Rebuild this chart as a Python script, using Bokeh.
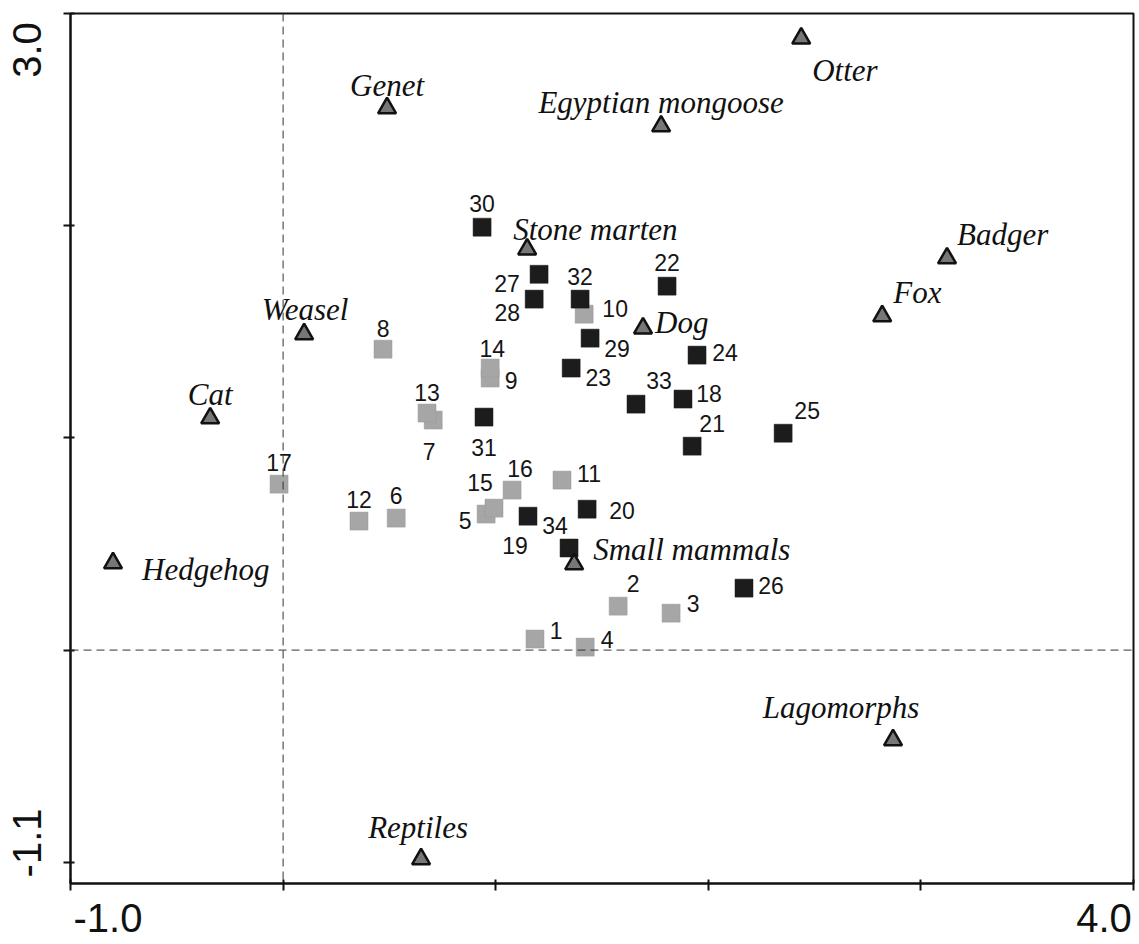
import math
from bokeh.plotting import figure
from bokeh.models import ColumnDataSource, FixedTicker, Span, Range1d
from bokeh.core.properties import value
from bokeh.embed import file_html
from bokeh.resources import INLINE

# ---------------- data ----------------
species_names = ["Genet", "Egyptian mongoose", "Otter", "Stone marten", "Badger",
                 "Fox", "Weasel", "Cat", "Hedgehog", "Dog", "Small mammals",
                 "Reptiles", "Lagomorphs"]
species_x = [0.489, 1.778, 2.437, 1.148, 3.123, 2.818, 0.099, -0.343, -0.800,
             1.693, 1.369, 0.649, 2.869]
species_y = [2.554, 2.469, 2.883, 1.889, 1.847, 1.574, 1.489, 1.093, 0.410,
             1.517, 0.405, -0.985, -0.424]

gray_ids = ["1", "2", "3", "4", "5", "6", "7", "8", "9", "10", "11", "12",
            "13", "14", "15", "16", "17"]
gray_x = [1.185, 1.576, 1.825, 1.421, 0.955, 0.532, 0.706, 0.470, 0.974, 1.416,
          1.312, 0.357, 0.677, 0.974, 0.992, 1.077, -0.019]
gray_y = [0.052, 0.207, 0.174, 0.014, 0.641, 0.622, 1.084, 1.418, 1.282, 1.583,
          0.801, 0.608, 1.117, 1.329, 0.669, 0.754, 0.782]

black_ids = ["18", "19", "20", "21", "22", "23", "24", "25", "26", "27", "28",
             "29", "30", "31", "32", "33", "34"]
black_x = [1.881, 1.152, 1.430, 1.924, 1.806, 1.355, 1.947, 2.352, 2.168, 1.204,
           1.181, 1.444, 0.936, 0.945, 1.397, 1.660, 1.345]
black_y = [1.183, 0.631, 0.664, 0.961, 1.715, 1.329, 1.390, 1.022, 0.292, 1.771,
           1.654, 1.470, 1.993, 1.098, 1.654, 1.159, 0.481]

x_tick_values = [-1, 0, 1, 2, 3, 4]
y_tick_values = [-1, 0, 1, 2, 3]
x_end_labels = ["-1.0", "4.0"]
y_end_labels = ["-1.1", "3.0"]
x_lo, x_hi = -1.0, 4.0
y_lo, y_hi = -1.1, 3.0

# ---------------- layout ----------------
FW, FH = 1063, 870
px_x = FW / (x_hi - x_lo)
px_y = FH / (y_hi - y_lo)
TEXT_SHIFT = -9  # baseline correction (px)

# label placement (screen px, +dx right, +dy down), relative to the marker
gray_dx = [21, 15, 22, 22, -21, 0, -4, 0, 21, 31, 27, 0, 0, 2, -14, 8, 0]
gray_dy = [-8, -22, -9, -7, 7, -22, 32, -20, 3, -5, -6, -21, -20, -19, -25, -21, -21]
black_dx = [26, -13, 35, 20, 0, 27, 28, 24, 27, -32, -27, 27, 0, 0, 0, 23, -14]
black_dy = [-5, 30, 2, -22, -23, 10, -2, -22, -2, 10, 14, 11, -23, 31, -22, -23, -22]

sp_align = ["center", "center", "left", "left", "left", "left", "center", "center",
            "left", "left", "left", "center", "center"]
sp_dx = [0, 0, 11, -14, 10, 11, 1, 0, 29, 12, 19, -3, -52]
sp_dy = [-14, -15, 41, -11, -15, -15, -16, -15, 15, 3, -6, -23, -24]

# ---------------- figure ----------------
p = figure(frame_width=FW, frame_height=FH,
           min_border_left=70, min_border_right=4, min_border_top=13, min_border_bottom=60,
           x_range=Range1d(x_lo, x_hi), y_range=Range1d(y_lo, y_hi),
           output_backend="svg", toolbar_location=None)
p.background_fill_color = "white"
p.border_fill_color = "white"
p.outline_line_color = "#111111"
p.outline_line_width = 2
p.xgrid.visible = False
p.ygrid.visible = False

# end labels sit just inside the ends of each axis
x_lab_pos = [round(x_lo + 37.5 / px_x, 3), round(x_hi - 29.5 / px_x, 3)]
y_lab_pos = [round(y_lo + 40.5 / px_y, 3), round(y_hi - 36.5 / px_y, 3)]

axis_specs = ((p.xaxis[0], x_lab_pos, x_tick_values, x_end_labels, 13, "horizontal"),
              (p.yaxis[0], y_lab_pos, y_tick_values, y_end_labels, 22, "parallel"))
for ax, lab_pos, ticks, labels, standoff, orient in axis_specs:
    ax.ticker = FixedTicker(ticks=lab_pos, minor_ticks=ticks)
    ax.major_label_overrides = {lab_pos[0]: labels[0], lab_pos[1]: labels[1]}
    ax.major_label_text_font = "Liberation Sans"
    ax.major_label_text_font_size = "40px"
    ax.major_label_text_color = "#111111"
    ax.major_label_standoff = standoff
    ax.major_label_orientation = orient
    ax.major_tick_line_color = None
    ax.major_tick_in = 0
    ax.major_tick_out = 0
    ax.minor_tick_line_color = "#111111"
    ax.minor_tick_line_width = 2
    ax.minor_tick_in = 4
    ax.minor_tick_out = 7
    ax.axis_line_color = "#111111"
    ax.axis_line_width = 2

# dashed zero lines
p.add_layout(Span(location=0, dimension="height", line_color="#333333",
                  line_width=1, line_dash="8 5"))
p.add_layout(Span(location=0, dimension="width", line_color="#333333",
                  line_width=1, line_dash="8 5"))

gray_src = ColumnDataSource(dict(x=gray_x, y=gray_y, t=gray_ids, dx=gray_dx,
                                 dy=[d + 8 + TEXT_SHIFT for d in gray_dy]))
black_src = ColumnDataSource(dict(x=black_x, y=black_y, t=black_ids, dx=black_dx,
                                  dy=[d + 8 + TEXT_SHIFT for d in black_dy]))

p.scatter("x", "y", source=gray_src, marker="square", size=18,
          fill_color="#a6a6a6", line_color="#999999", line_width=0.5)
p.scatter("x", "y", source=black_src, marker="square", size=18,
          fill_color="#1c1c1c", line_color="#1c1c1c", line_width=0.5)

for src in (gray_src, black_src):
    p.text("x", "y", text="t", source=src, x_offset="dx", y_offset="dy",
           text_align="center", text_baseline="alphabetic",
           text_font=value("Liberation Sans"), text_font_size="23px",
           text_color="#151515")

p.scatter(species_x, species_y, marker="triangle", size=18,
          fill_color="#777777", line_color="#111111", line_width=2.5)

for align in ("left", "center"):
    idx = [i for i, a in enumerate(sp_align) if a == align]
    src = ColumnDataSource(dict(x=[species_x[i] for i in idx],
                                y=[species_y[i] for i in idx],
                                t=[species_names[i] for i in idx],
                                dx=[sp_dx[i] for i in idx],
                                dy=[sp_dy[i] + TEXT_SHIFT for i in idx]))
    p.text("x", "y", text="t", source=src, x_offset="dx", y_offset="dy",
           text_align=align, text_baseline="alphabetic",
           text_font=value("Liberation Serif"), text_font_style="italic",
           text_font_size="31px", text_color="#111111")

open("out.html", "w").write(file_html(p, INLINE))
